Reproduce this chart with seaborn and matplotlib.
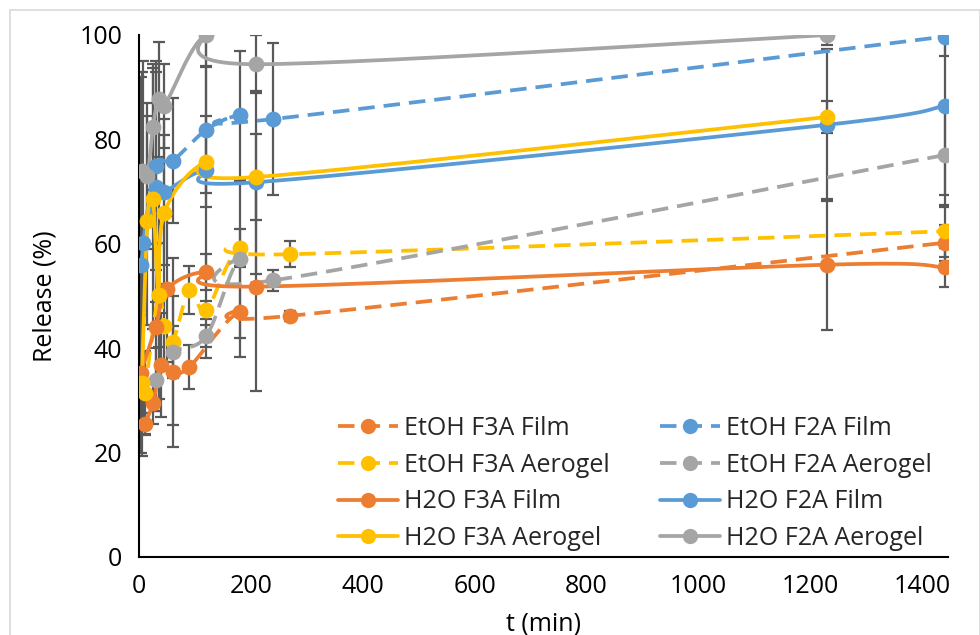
import numpy as np
import pandas as pd
import matplotlib
matplotlib.use("Agg")
import matplotlib.pyplot as plt
import seaborn as sns
from matplotlib.lines import Line2D
from matplotlib.patches import Rectangle

# ---------------- data ----------------
series_names = ["EtOH F3A Film", "EtOH F3A Aerogel", "H2O F3A Film", "H2O F3A Aerogel",
                "EtOH F2A Film", "EtOH F2A Aerogel", "H2O F2A Film", "H2O F2A Aerogel"]

etoh_f3a_film_t = [10, 25, 40, 60, 90, 180, 270, 1440]
etoh_f3a_film_v = [25.5, 29.5, 36.8, 35.5, 36.4, 47.0, 46.2, 60.2]
etoh_f3a_film_e = [2.0, 4.0, 10.0, 14.5, 4.2, 8.7, 1.0, 3.4]

etoh_f3a_aero_t = [10, 35, 45, 60, 90, 120, 180, 270, 1440]
etoh_f3a_aero_v = [31.4, 50.2, 44.3, 41.2, 51.1, 47.3, 59.2, 58.0, 62.4]
etoh_f3a_aero_e = [8.0, 10.0, 8.0, 16.0, 4.6, 1.7, 3.6, 2.5, 5.0]

h2o_f3a_film_t = [3, 30, 50, 120, 210, 1230, 1440]
h2o_f3a_film_v = [35.3, 44.0, 51.3, 54.6, 51.8, 56.0, 55.5]
h2o_f3a_film_e = [11.0, 16.0, 14.0, 3.4, 20.0, 12.6, 3.7]

h2o_f3a_aero_t = [5, 15, 25, 35, 45, 120, 210, 1230]
h2o_f3a_aero_v = [33.3, 64.4, 68.6, 50.2, 65.9, 75.7, 72.8, 84.3]
h2o_f3a_aero_e = [14.0, 20.0, 25.0, 20.0, 15.0, 8.7, 8.2, 3.0]

etoh_f2a_film_t = [7, 30, 60, 120, 180, 240, 1440]
etoh_f2a_film_v = [60.1, 75.0, 75.9, 81.8, 84.7, 83.9, 99.7]
etoh_f2a_film_e = [35.0, 20.0, 12.0, 12.0, 12.3, 14.5, 3.7]

etoh_f2a_aero_t = [30, 60, 120, 180, 240, 1440]
etoh_f2a_aero_v = [34.0, 39.2, 42.3, 57.0, 53.0, 77.0]
etoh_f2a_aero_e = [6.0, 5.0, 2.1, 15.0, 2.0, 10.0]

h2o_f2a_film_t = [3, 30, 45, 120, 210, 1230, 1440]
h2o_f2a_film_v = [56.0, 70.9, 70.0, 74.1, 71.8, 82.8, 86.4]
h2o_f2a_film_e = [36.0, 22.0, 14.0, 36.0, 17.5, 14.6, 17.0]

h2o_f2a_aero_t = [5, 15, 25, 35, 45, 120, 210, 1230]
h2o_f2a_aero_v = [74.0, 73.0, 82.4, 87.7, 86.4, 100.0, 94.4, 100.0]
h2o_f2a_aero_e = [19.0, 14.0, 12.0, 11.0, 8.0, 6.0, 5.6, 2.0]

x_ticks = [0, 200, 400, 600, 800, 1000, 1200, 1400]
y_ticks = [0, 20, 40, 60, 80, 100]

# ---------------- style ----------------
ORANGE, BLUE, YELLOW, GRAY = "#ED7D31", "#5B9BD5", "#FFC000", "#A5A5A5"
ERR = "#595959"
DASH = (0, (4.4, 2.4))
FS = 18

series = [
    ("EtOH F3A Film", etoh_f3a_film_t, etoh_f3a_film_v, etoh_f3a_film_e, ORANGE, True),
    ("EtOH F2A Film", etoh_f2a_film_t, etoh_f2a_film_v, etoh_f2a_film_e, BLUE, True),
    ("EtOH F3A Aerogel", etoh_f3a_aero_t, etoh_f3a_aero_v, etoh_f3a_aero_e, YELLOW, True),
    ("EtOH F2A Aerogel", etoh_f2a_aero_t, etoh_f2a_aero_v, etoh_f2a_aero_e, GRAY, True),
    ("H2O F3A Film", h2o_f3a_film_t, h2o_f3a_film_v, h2o_f3a_film_e, ORANGE, False),
    ("H2O F2A Film", h2o_f2a_film_t, h2o_f2a_film_v, h2o_f2a_film_e, BLUE, False),
    ("H2O F3A Aerogel", h2o_f3a_aero_t, h2o_f3a_aero_v, h2o_f3a_aero_e, YELLOW, False),
    ("H2O F2A Aerogel", h2o_f2a_aero_t, h2o_f2a_aero_v, h2o_f2a_aero_e, GRAY, False),
]


def smooth(t, v, n=30):
    """Excel-style smoothed line (Bezier with Catmull-Rom control points)."""
    P = np.column_stack([t, v]).astype(float)
    m = len(P)
    out = []
    for i in range(m - 1):
        p0 = P[i - 1] if i > 0 else P[i]
        p1, p2 = P[i], P[i + 1]
        p3 = P[i + 2] if i + 2 < m else P[i + 1]
        c1 = p1 + (p2 - p0) / 6.0
        c2 = p2 - (p3 - p1) / 6.0
        s = np.linspace(0, 1, n, endpoint=(i == m - 2))[:, None]
        seg = ((1 - s) ** 3) * p1 + 3 * ((1 - s) ** 2) * s * c1 + 3 * (1 - s) * s ** 2 * c2 + s ** 3 * p2
        out.append(seg)
    out = np.vstack(out)
    return out[:, 0], out[:, 1]


sns.set_theme(style="white")
plt.rcParams["font.family"] = ["Open Sans", "DejaVu Sans"]

fig = plt.figure(figsize=(9.8, 6.35), dpi=100)
ax = fig.add_axes([139 / 980, 1 - 557 / 635, (948 - 139) / 980, (557 - 35) / 635])

for name, t, v, e, c, dashed in series:
    ax.errorbar(t, v, yerr=e, fmt="none", ecolor=ERR, elinewidth=1.6,
                capsize=4.5, capthick=1.6, zorder=2)

for name, t, v, e, c, dashed in series:
    xs, ys = smooth(t, v)
    df = pd.DataFrame({"t": xs, "v": ys})
    sns.lineplot(data=df, x="t", y="v", sort=False, estimator=None, ax=ax,
                 color=c, linewidth=2.7, linestyle=DASH if dashed else "-",
                 zorder=3, legend=False)
    sns.scatterplot(x=t, y=v, ax=ax, color=c, s=130, linewidth=0, zorder=4,
                    legend=False)

ax.set_xlim(0, 1446)
ax.set_ylim(0, 100)
ax.set_xticks(x_ticks)
ax.set_yticks(y_ticks)
ax.tick_params(axis="both", direction="out", length=5, width=1.3, color="black",
               labelsize=FS, pad=7, labelcolor="black")
for sp in ["top", "right"]:
    ax.spines[sp].set_visible(False)
for sp in ["left", "bottom"]:
    ax.spines[sp].set_color("black")
    ax.spines[sp].set_linewidth(1.5)
ax.set_xlabel("t (min)", fontsize=FS, labelpad=9, color="black")
ax.set_ylabel("Release (%)", fontsize=FS, labelpad=16, color="black")
ax.grid(False)

# legend (column-wise order as in the reference)
handles = []
lookup = {s[0]: s for s in series}
for nm in series_names:
    _, t, v, e, c, dashed = lookup[nm]
    handles.append(Line2D([], [], color=c, linewidth=2.7,
                          linestyle=DASH if dashed else "-",
                          marker="o", markersize=11, markeredgewidth=0))
ax.legend(handles, series_names, ncol=2, loc="lower right",
          bbox_to_anchor=(0.993, -0.008), frameon=False, fontsize=FS,
          handlelength=2.4, handletextpad=0.25, columnspacing=2.0,
          labelspacing=0.47, borderaxespad=0)

fig.patches.append(Rectangle((10 / 980, -0.01), 0.99, 1 - 10 / 635 + 0.01,
                             transform=fig.transFigure, fill=False,
                             edgecolor="#D9D9D9", linewidth=1.2))

fig.savefig("out.png", dpi=100, facecolor="white")
